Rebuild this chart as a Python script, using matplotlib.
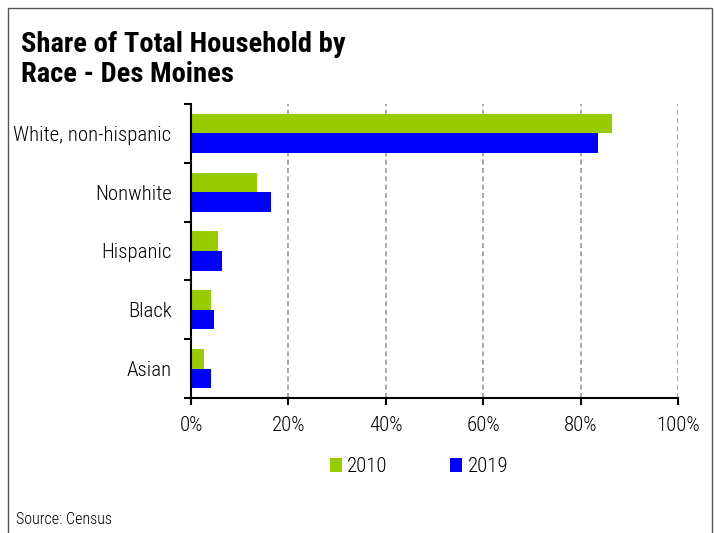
import matplotlib
matplotlib.use("Agg")
import matplotlib.pyplot as plt
import numpy as np
from matplotlib.patches import Rectangle

plt.rcParams['font.family'] = ['Roboto Condensed', 'DejaVu Sans']

categories = ["White, non-hispanic", "Nonwhite", "Hispanic", "Black", "Asian"]
share_2010 = [86.5, 13.5, 5.5, 4.1, 2.7]
share_2019 = [83.5, 16.5, 6.4, 4.7, 4.1]
xticks = [0, 20, 40, 60, 80, 100]
xtick_labels = ["0%", "20%", "40%", "60%", "80%", "100%"]

green = "#99cc00"
blue = "#0000ff"

fig = plt.figure(figsize=(7.14, 5.33), dpi=100)
W, H = 714, 533

# frame round the whole chart
fig.patches.append(Rectangle((8 / W, -0.01), 704 / W, 1 - 8 / H + 0.01,
                             transform=fig.transFigure, fill=False,
                             edgecolor="#555555", linewidth=1))

fig.text(21 / W, 1 - 45 / H, "Share of Total Household by", fontsize=20.5,
         fontweight="bold", va="center", ha="left")
fig.text(21 / W, 1 - 75 / H, "Race - Des Moines", fontsize=20.5,
         fontweight="bold", va="center", ha="left")

ax = fig.add_axes([191 / W, 1 - 398 / H, 487 / W, 294 / H])
y = np.arange(len(categories))
bh = 0.335
ax.barh(y - bh / 2, share_2010, height=bh, color=green, label="2010")
ax.barh(y + bh / 2, share_2019, height=bh, color=blue, label="2019")

ax.set_xlim(0, 100)
ax.set_ylim(len(categories) - 0.5, -0.5)
ax.set_xticks(xticks)
ax.set_xticklabels(xtick_labels, fontsize=15, fontweight=300)
ax.set_yticks(y)
ax.set_yticklabels(categories, fontsize=15, fontweight=300)
ax.set_yticks(np.arange(len(categories) + 1) - 0.5, minor=True)
ax.tick_params(axis="y", which="major", length=0, pad=14)
ax.tick_params(axis="y", which="minor", length=5, width=1.5, direction="out")
ax.tick_params(axis="x", length=5, width=1.5, direction="out", pad=8)

for v in xticks[1:]:
    ax.axvline(v, color="#999999", linestyle=(0, (3, 2)), linewidth=1.2, zorder=0)

for s in ["top", "right"]:
    ax.spines[s].set_visible(False)
ax.spines["left"].set_linewidth(1.5)
ax.spines["bottom"].set_linewidth(1.5)

fig.legend(loc="center", bbox_to_anchor=(419 / W, 1 - 467 / H), ncol=2,
           frameon=False, prop={"size": 15, "weight": 300},
           handlelength=0.58, handleheight=0.67,
           handletextpad=0.25, columnspacing=3.0)

fig.text(16 / W, 1 - 520 / H, "Source: Census", fontsize=11.5, fontweight=300,
         va="center", ha="left")

fig.savefig("out.png", dpi=100)
